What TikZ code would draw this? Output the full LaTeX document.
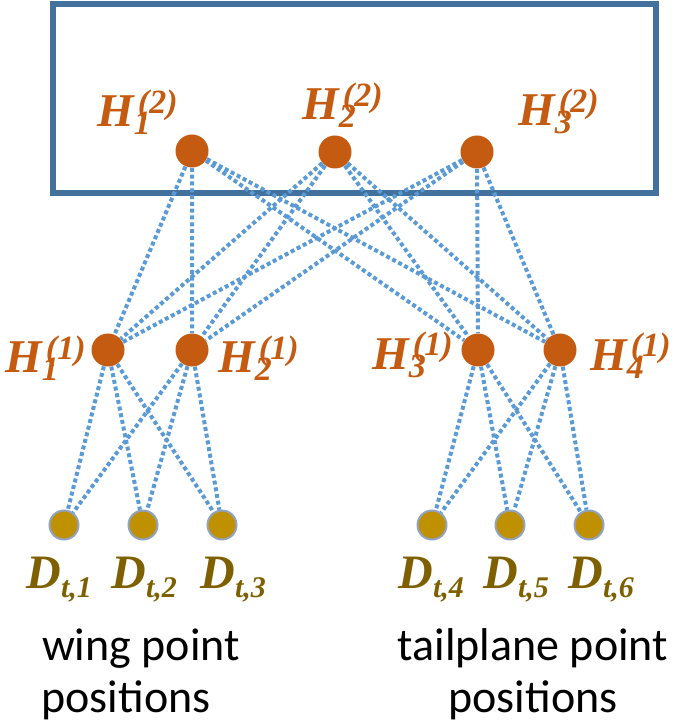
\documentclass[tikz,border=0pt]{standalone}
\usepackage{fontspec}
\setmainfont{Liberation Serif}
\newfontfamily\captionfont{Carlito}
\usetikzlibrary{positioning}
\definecolor{frameblue}{RGB}{65,113,156}
\definecolor{hiddenorange}{RGB}{197,90,17}
\definecolor{datagold}{RGB}{191,144,0}
\definecolor{dataedge}{RGB}{143,163,196}
\definecolor{datatext}{RGB}{127,96,0}
\definecolor{linkblue}{RGB}{91,155,213}

\newcommand{\hname}[2]{H\rlap{\raisebox{-4pt}{\fontsize{17}{17}\selectfont #1}}\kern2pt\raisebox{6.5pt}{\fontsize{17}{17}\selectfont (#2)}}
\newcommand{\dname}[1]{D\raisebox{-4.5pt}{\fontsize{15}{15}\selectfont t,#1}}

\begin{document}
\begin{tikzpicture}[x=0.5pt, y=-0.5pt,
        hidden/.style={circle, fill=hiddenorange, inner sep=0pt, minimum size=16.5pt},
        datum/.style={circle, fill=datagold, draw=dataedge, line width=1pt, inner sep=0pt, minimum size=14.5pt},
        hlabel/.style={text=hiddenorange, font=\fontsize{23.5}{23.5}\selectfont\bfseries\itshape, inner sep=0pt, anchor=base west},
        dlabel/.style={text=datatext, font=\fontsize{24}{24}\selectfont\bfseries\itshape, inner sep=0pt, anchor=base west},
        caption/.style={font=\captionfont\fontsize{23}{27}\selectfont, inner sep=0pt, anchor=base},
        link/.style={linkblue, line width=2pt, dash pattern=on 2pt off 1.4pt}
    ]
    \useasboundingbox (0,0) rectangle (679,726);
    \draw[frameblue, line width=3pt] (53,4) rectangle (656,193);
    % second hidden layer
    \node[hidden] (h21) at (192,151) {};
    \node[hidden] (h22) at (335,152) {};
    \node[hidden] (h23) at (477,152) {};
    \node[hlabel] (l21) at (97,127) {\hname{1}{2}};
    \node[hlabel] (l22) at (302,120) {\hname{2}{2}};
    \node[hlabel] (l23) at (518,126) {\hname{3}{2}};
    % first hidden layer
    \node[hidden] (h11) at (108,350) {};
    \node[hidden] (h12) at (192,350) {};
    \node[hidden] (h13) at (478,350) {};
    \node[hidden] (h14) at (560,350) {};
    \node[hlabel] (l11) at (5,372) {\hname{1}{1}};
    \node[hlabel] (l12) at (218,372) {\hname{2}{1}};
    \node[hlabel] (l13) at (372,369) {\hname{3}{1}};
    \node[hlabel] (l14) at (590,370) {\hname{4}{1}};
    % data points
    \node[datum] (d1) at (64,525) {};
    \node[datum] (d2) at (143,525) {};
    \node[datum] (d3) at (222,525) {};
    \node[datum] (d4) at (432,525) {};
    \node[datum] (d5) at (510,525) {};
    \node[datum] (d6) at (589,525) {};
    \node[dlabel] (t1) at (26,588) {\dname{1}};
    \node[dlabel] (t2) at (111,588) {\dname{2}};
    \node[dlabel] (t3) at (200,588) {\dname{3}};
    \node[dlabel] (t4) at (398,588) {\dname{4}};
    \node[dlabel] (t5) at (483,588) {\dname{5}};
    \node[dlabel] (t6) at (568,588) {\dname{6}};
    \node[caption] (wing) at (141,660) {wing point};
    \node[caption] (wingpos) at (126,712) {positions};
    \node[caption] (tail) at (533,660) {tailplane point};
    \node[caption] (tailpos) at (533,712) {positions};
    % links
    \draw[link] (h21) -- (h11) (h21) -- (h12) (h21) -- (h13) (h21) -- (h14);
    \draw[link] (h22) -- (h11) (h22) -- (h12) (h22) -- (h13) (h22) -- (h14);
    \draw[link] (h23) -- (h11) (h23) -- (h12) (h23) -- (h13) (h23) -- (h14);
    \draw[link] (h11) -- (d1) (h11) -- (d2) (h11) -- (d3);
    \draw[link] (h12) -- (d1) (h12) -- (d2) (h12) -- (d3);
    \draw[link] (h13) -- (d4) (h13) -- (d5) (h13) -- (d6);
    \draw[link] (h14) -- (d4) (h14) -- (d5) (h14) -- (d6);
\end{tikzpicture}
\end{document}
